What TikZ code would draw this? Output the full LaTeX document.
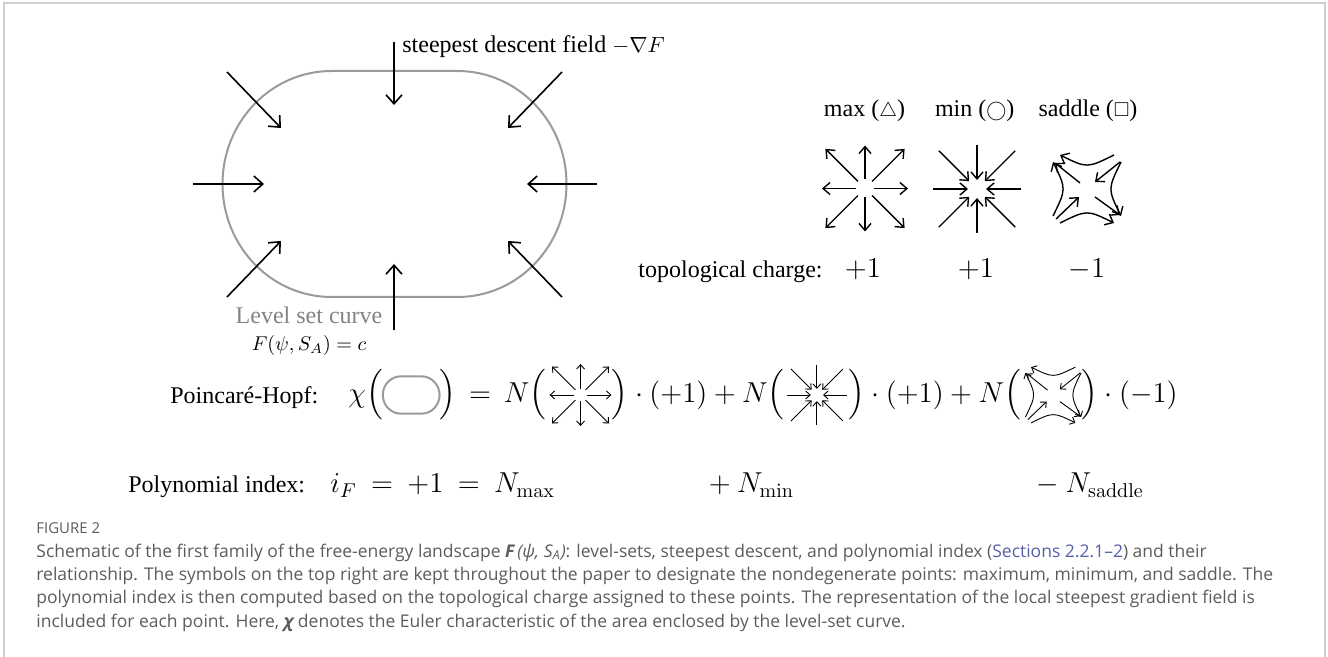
\documentclass[tikz,border=0pt]{standalone}
\usepackage{amsmath}
\usepackage{amssymb}
\usepackage[no-math]{fontspec}
\setmainfont{Liberation Serif}
\newfontfamily\capfont{Open Sans}
\usepackage{tikz}
\usetikzlibrary{positioning, calc, arrows.meta}
\definecolor{levelgray}{HTML}{9A9A9A}
\definecolor{framegray}{HTML}{CFCFCF}
\definecolor{capgray}{HTML}{5C5C5C}
\definecolor{seclink}{HTML}{5560A8}
\tikzset{
	fieldarr/.style={line width=0.8pt, -{Straight Barb[length=4.5pt,width=8pt]}}
}
\tikzset{
	glypharr/.style={line width=0.7pt, -{Straight Barb[length=3.5pt,width=6pt]}},
	tinyarr/.style={line width=0.45pt, -{Straight Barb[length=2.2pt,width=4pt]}}
}
\tikzset{
	bigtext/.style={font=\fontsize{12}{14}\selectfont, inner sep=0pt},
	eqmath/.style={font=\fontsize{14}{16}\selectfont, inner sep=0pt},
	chargemath/.style={font=\fontsize{14.4}{17}\selectfont, inner sep=0pt},
	captext/.style={font=\capfont\fontsize{8.75}{11}\selectfont, text=capgray, inner sep=0pt, anchor=base west}
}
% field glyphs, drawn in pixel units around (0,0)
\tikzset{
	pics/levelset/.style={code={
		\draw[levelgray, line width=1pt] (-63,-113) -- (63,-113)
		  arc[start angle=-90, end angle=90, x radius=109, y radius=113] -- (-63,113)
		  arc[start angle=90, end angle=270, x radius=109, y radius=113] -- cycle;
	}},
	pics/maxpt/.style={code={
		\foreach \a in {0,90,180,270} \draw[#1] (\a:9) -- (\a:43);
		\foreach \a in {45,135,225,315} \draw[#1] (\a:10) -- (\a:56);
	}},
	pics/maxpt/.default=glypharr,
	pics/minpt/.style={code={
		\foreach \a in {0,90,180,270} \draw[#1] (\a:44) -- (\a:9);
		\foreach \a in {45,135,225,315} \draw[#1] (\a:54) -- (\a:11);
	}},
	pics/minpt/.default=glypharr,
	pics/saddlept/.style={code={
		\draw[#1] (-7,-6) -- (-32,-26);
		\draw[#1] (33,-27) -- (8,-7);
		\draw[#1] (-31,30) -- (-8,8);
		\draw[#1] (8,8) -- (33,26);
		\draw[#1] (27,-34) .. controls (0,-20.7) .. (-27,-34);
		\draw[#1] (-34,27) .. controls (-20.7,0) .. (-34,-27);
		\draw[#1] (-27,34) .. controls (0,20.7) .. (27,34);
		\draw[#1] (34,-27) .. controls (20.7,0) .. (34,27);
	}},
	pics/saddlept/.default=glypharr
}
\newcommand{\symsz}{\fontsize{10}{12}\selectfont}

\begin{document}
\begin{tikzpicture}[x=0.5pt, y=-0.5pt]
  \useasboundingbox (0,0) rectangle (1328,657);
  \draw[framegray, line width=1pt] (4,657) -- (4,3) -- (1325,3) -- (1325,657);

  % level set and steepest descent field
  \pic at (394.5,184) {levelset};
  \draw[fieldarr] (394,42) -- (394,105);
  \draw[fieldarr] (394,330) -- (394,264);
  \draw[fieldarr] (193,184) -- (264,184);
  \draw[fieldarr] (597,184) -- (527,184);
  \draw[fieldarr] (227,72) -- (281,128);
  \draw[fieldarr] (562,72) -- (508,128);
  \draw[fieldarr] (227,297) -- (281,241);
  \draw[fieldarr] (562,297) -- (508,241);
  \node[bigtext, anchor=base west] (sdf) at (402,53) {steepest descent field\ {\fontsize{10.5}{12}\selectfont$-\nabla F$}};
  \node[bigtext, text=levelgray!85!black, anchor=base] (lsc) at (309,324) {Level set curve};
  \node[inner sep=0pt, font=\fontsize{10}{12}\selectfont] (lsf) at (309,346) {$F(\psi,S_A)=c$};

  % nondegenerate points
  \node[bigtext, anchor=base] (lmax) at (864.5,117) {max ({\symsz$\triangle$})};
  \node[bigtext, anchor=base] (lmin) at (974.7,117) {min ({\symsz$\bigcirc$})};
  \node[bigtext, anchor=base] (lsad) at (1088,117) {saddle ({\symsz$\square$})};
  \pic at (865,188.5) {maxpt};
  \pic at (977,189) {minpt};
  \pic at (1087,189) {saddlept};
  \node[bigtext, anchor=base west] (tc) at (638,278) {topological charge:};
  \node[chargemath, anchor=base] (cmax) at (863,278) {$+1$};
  \node[chargemath, anchor=base] (cmin) at (976,278) {$+1$};
  \node[chargemath, anchor=base] (csad) at (1087,278) {$-1$};

  % Poincare-Hopf
  \node[bigtext, anchor=base west] (ph) at (170,404) {Poincaré-Hopf:};
  \node[eqmath, anchor=west] (e1) at (348,395) {$\chi\Bigl($};
  \coordinate[right=14pt of e1] (o1);
  \pic[scale=0.165] at (o1) {levelset};
  \node[eqmath, right=14pt of o1] (e2) {$\Bigr)\,=\,N\Bigl($};
  \coordinate[right=17pt of e2] (g1);
  \pic[scale=0.72] at (g1) {maxpt=tinyarr};
  \node[eqmath, right=15.5pt of g1] (e3) {$\Bigr)\cdot(+1)+N\Bigl($};
  \coordinate[right=16pt of e3] (g2);
  \pic[scale=0.68] at (g2) {minpt=tinyarr};
  \node[eqmath, right=15.5pt of g2] (e4) {$\Bigr)\cdot(+1)+N\Bigl($};
  \coordinate[right=16pt of e4] (g3);
  \pic[scale=0.82] at (g3) {saddlept=tinyarr};
  \node[eqmath, right=14pt of g3] (e5) {$\Bigr)\cdot(-1)$};

  % polynomial index
  \node[bigtext, anchor=base west] (pin) at (128,493) {Polynomial index:};
  \node[eqmath, anchor=base west] (ifm) at (330,493) {$i_F\:=\:+1\:=\:N_{\max}$};
  \node[eqmath, anchor=base west] (nmin) at (702,493) {${}+N_{\min}$};
  \node[eqmath, anchor=base west] (nsad) at (1030,493) {${}-N_{\mathrm{saddle}}$};

  % caption
  \node[captext, font=\capfont\fontsize{7.5}{9}\selectfont] (fig) at (36,533) {FIGURE 2};
  \node[captext] (cap1) at (36,557) {Schematic of the first family of the free-energy landscape {\bfseries\itshape F}\,\textit{(ψ, S}\textsubscript{\textit{A}}\textit{)}: level-sets, steepest descent, and polynomial index (\textcolor{seclink}{Sections 2.2.1–2}) and their};
  \node[captext] (cap2) at (36,580) {relationship. The symbols on the top right are kept throughout the paper to designate the nondegenerate points: maximum, minimum, and saddle. The};
  \node[captext] (cap3) at (36,603.5) {polynomial index is then computed based on the topological charge assigned to these points. The representation of the local steepest gradient field is};
  \node[captext] (cap4) at (36,627) {included for each point. Here, {\bfseries\itshape χ} denotes the Euler characteristic of the area enclosed by the level-set curve.};
\end{tikzpicture}
\end{document}
